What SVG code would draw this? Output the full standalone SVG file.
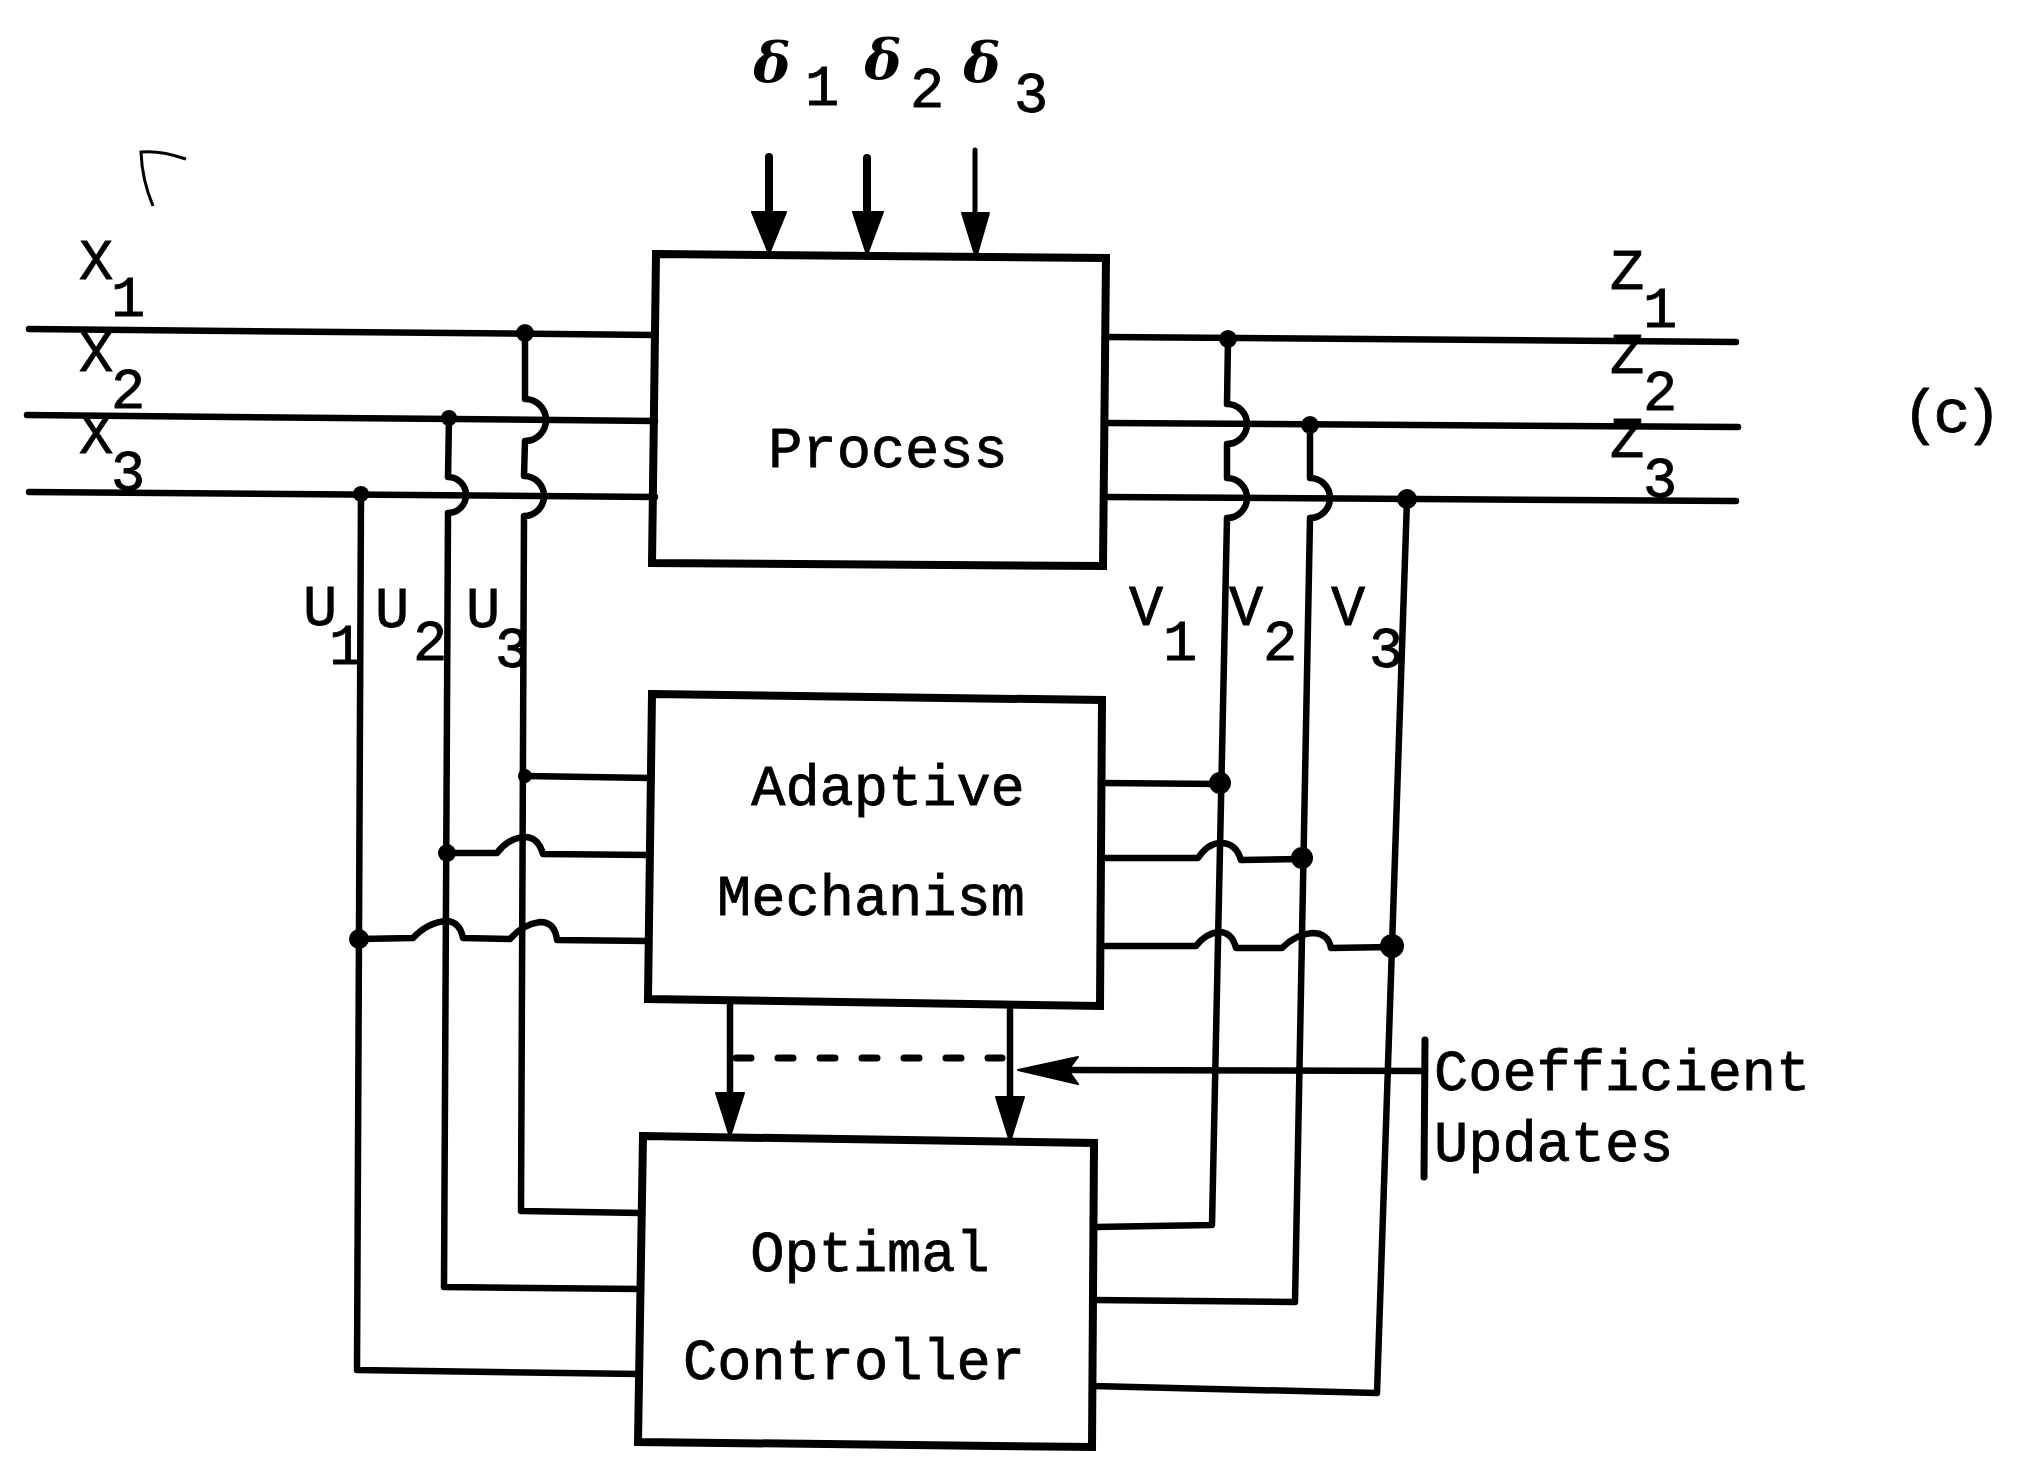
<svg xmlns="http://www.w3.org/2000/svg" width="2038" height="1466" viewBox="0 0 2038 1466">
<style>
.ln{stroke:#000;stroke-width:6.5;fill:none;stroke-linejoin:round;stroke-linecap:round}
.box{stroke:#000;stroke-width:8;fill:none;stroke-linejoin:miter}
.t{font-family:"Liberation Mono","DejaVu Sans Mono",monospace;font-size:57px;fill:#000;stroke:#000;stroke-width:0.8}
.c{text-anchor:middle}
.d{font-family:"DejaVu Serif","Liberation Serif",serif;font-size:56px;font-weight:bold;font-style:italic;fill:#000;text-anchor:middle}
.dot{fill:#000}
.hd{fill:#000;stroke:#000;stroke-width:2;stroke-linejoin:round}
</style>
<rect width="2038" height="1466" fill="#fff"/>

<g id="process">
<polygon class="box" points="656,254 1106,258 1103,566 652,563"/>
<text class="t c" x="888" y="467">Process</text>
</g>
<g id="adaptive">
<polygon class="box" points="652,694 1102,700 1100,1006 648,999"/>
<text class="t c" x="888" y="805">Adaptive</text>
<text class="t c" x="871" y="915">Mechanism</text>
</g>
<g id="controller">
<polygon class="box" points="643,1136 1094,1143 1092,1447 638,1442"/>
<text class="t c" x="870" y="1271">Optimal</text>
<text class="t c" x="854" y="1379">Controller</text>
</g>

<g id="connectors">
<!-- inputs X -->
<path class="ln" d="M29 329 L655 335"/>
<path class="ln" d="M27 415 L655 421"/>
<path class="ln" d="M29 492 L655 497"/>
<!-- outputs Z -->
<path class="ln" d="M1106 337 L1736 342"/>
<path class="ln" d="M1106 423 L1738 427"/>
<path class="ln" d="M1106 497 L1736 501"/>
<!-- U lines -->
<path class="ln" d="M525 333 L525 399 A21 21 0 0 1 525 441 L524 476 A20 20 0 0 1 524 516 L521 1211 L642 1213"/>
<path class="ln" d="M449 418 L448 477 A18 18 0 0 1 448 513 L444 1287 L641 1289"/>
<path class="ln" d="M361 494 L357 1370 L639 1374"/>
<!-- V lines -->
<path class="ln" d="M1228 339 L1227 404 A20 20 0 0 1 1227 444 L1227 478 A20 20 0 0 1 1227 518 L1212 1225 L1095 1227"/>
<path class="ln" d="M1310 425 L1310 478 A20 20 0 0 1 1310 518 L1295 1302 L1093 1300"/>
<path class="ln" d="M1407 499 L1377 1393 L1093 1386"/>
<!-- adaptive inputs -->
<path class="ln" d="M525 776 L651 778"/>
<path class="ln" d="M447 853 L497 853 Q508 838 525 837 Q538 837 543 854 L650 855"/>
<path class="ln" d="M359 939 L413 938 Q428 922 447 921 Q460 922 463 938 L510 939 Q523 924 540 922 Q555 922 557 940 L649 941"/>
<path class="ln" d="M1101 783 L1220 784"/>
<path class="ln" d="M1101 858 L1198 858 Q1208 843 1221 843 Q1236 843 1241 860 L1302 859"/>
<path class="ln" d="M1100 946 L1196 946 Q1206 933 1219 932 Q1232 932 1236 948 L1282 948 Q1296 934 1312 933 Q1328 933 1331 948 L1392 947"/>
<!-- junction dots -->
<circle class="dot" cx="525" cy="333" r="9"/>
<circle class="dot" cx="449" cy="418" r="8"/>
<circle class="dot" cx="361" cy="494" r="8"/>
<circle class="dot" cx="1228" cy="339" r="9"/>
<circle class="dot" cx="1310" cy="425" r="9"/>
<circle class="dot" cx="1407" cy="499" r="10"/>
<circle class="dot" cx="525" cy="776" r="7"/>
<circle class="dot" cx="447" cy="853" r="9"/>
<circle class="dot" cx="359" cy="939" r="10"/>
<circle class="dot" cx="1220" cy="783" r="11"/>
<circle class="dot" cx="1302" cy="858" r="11"/>
<circle class="dot" cx="1392" cy="946" r="12"/>
<!-- disturbance arrows -->
<path class="ln" style="stroke-width:8" d="M769 157 L769 214"/>
<polygon class="hd" points="752,212 786,212 769,254"/>
<path class="ln" style="stroke-width:8" d="M867 158 L867 214"/>
<polygon class="hd" points="853,212 883,212 867,255"/>
<path class="ln" style="stroke-width:5" d="M975 150 L975 215"/>
<polygon class="hd" points="962,213 989,213 976,258"/>
<!-- adaptive to controller -->
<path class="ln" d="M730 1002 L730 1095"/>
<polygon class="hd" points="716,1093 744,1093 730,1137"/>
<path class="ln" d="M1010 1005 L1010 1098"/>
<polygon class="hd" points="996,1097 1024,1097 1010,1142"/>
<path class="ln" style="stroke-width:7;stroke-dasharray:15 27" d="M736 1058 L1002 1058"/>
<!-- coefficient updates -->
<path class="ln" d="M1425 1071 L1070 1070"/>
<polygon class="hd" points="1018,1070 1078,1057 1068,1070 1078,1084"/>
<path class="ln" style="stroke-width:7" d="M1425 1040 L1424 1177"/>
</g>

<g id="labels">
<text class="t c" x="96" y="279">X</text><text class="t c" x="128" y="316">1</text>
<text class="t c" x="96" y="371">X</text><text class="t c" x="128" y="408">2</text>
<text class="t c" x="96" y="453">X</text><text class="t c" x="128" y="490">3</text>
<text class="t c" x="1627" y="289">Z</text><text class="t c" x="1660" y="327">1</text>
<text class="t c" x="1627" y="373">Z</text><text class="t c" x="1660" y="410">2</text>
<text class="t c" x="1627" y="457">Z</text><text class="t c" x="1660" y="497">3</text>
<text class="t c" x="320" y="625">U</text><text class="t c" x="346" y="664">1</text>
<text class="t c" x="392" y="627">U</text><text class="t c" x="430" y="660">2</text>
<text class="t c" x="483" y="627">U</text><text class="t c" x="512" y="667">3</text>
<text class="t c" x="1146" y="625">V</text><text class="t c" x="1180" y="660">1</text>
<text class="t c" x="1246" y="625">V</text><text class="t c" x="1280" y="660">2</text>
<text class="t c" x="1348" y="625">V</text><text class="t c" x="1386" y="667">3</text>
<text class="d" x="772" y="83">δ</text><text class="t c" x="822" y="105">1</text>
<text class="d" x="883" y="80">δ</text><text class="t c" x="927" y="107">2</text>
<text class="d" x="982" y="83">δ</text><text class="t c" x="1031" y="112">3</text>
<text class="t" x="1434" y="1090">Coefficient</text>
<text class="t" x="1434" y="1161">Updates</text>
<text class="t" x="1902" y="432" style="font-size:62px;letter-spacing:-6px">(c)</text>
</g>
<path d="M186 159 Q160 150 141 152 Q142 180 153 206" fill="none" stroke="#000" stroke-width="3"/>
</svg>
